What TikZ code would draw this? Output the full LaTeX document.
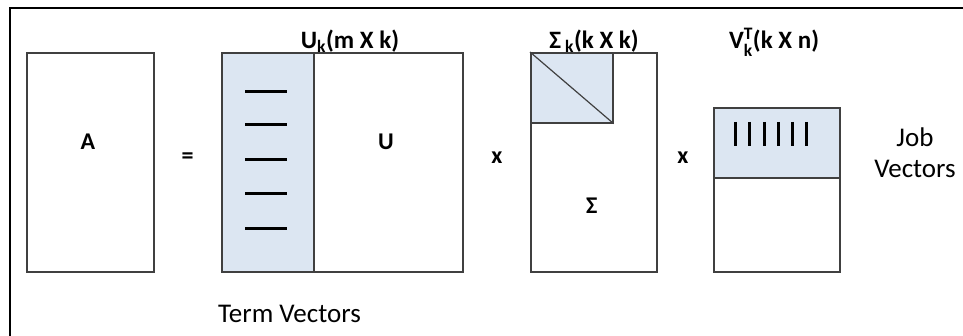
\documentclass[tikz,border=0pt]{standalone}
\usepackage{amsmath}
\usepackage{fontspec}
\setmainfont{Carlito}
\usetikzlibrary{positioning}
\definecolor{svdShade}{RGB}{220,230,242}
\definecolor{svdEdge}{RGB}{64,64,64}

\begin{document}
\begin{tikzpicture}[x=1pt, y=-1pt,
  mat/.style={draw=svdEdge, line width=1.6pt, inner sep=0pt, anchor=north west},
  part/.style={mat, fill=svdShade},
  bar/.style={line width=3pt},
  sym/.style={font=\fontsize{24}{28}\selectfont\bfseries, anchor=base, inner sep=0pt},
  title/.style={font=\fontsize{25}{30}\selectfont\bfseries, anchor=base, inner sep=0pt},
  lbl/.style={font=\fontsize{27}{31}\selectfont, inner sep=0pt}]
  \useasboundingbox (0,0) rectangle (963,336);
  \draw[line width=2.4pt] (10,336) |- (963,8);

  % A
  \node[mat, minimum width=127, minimum height=219] (a) at (26,52) {};
  \node[sym] (aLbl) at (88,150) {A};
  \node[sym] (eq) at (187.5,164) {=};

  % U_k
  \node[mat, minimum width=241, minimum height=219] (u) at (221,52) {};
  \node[part, minimum width=92, minimum height=219] (uk) at (221,52) {};
  \foreach \y in {92,125,160,194,229}
    \draw[bar] (245,\y) -- (287,\y);
  \node[sym] (uLbl) at (386,150) {U};
  \node[title] (uTitle) at (350,49) {U\textsubscript{k}(m X k)};
  \node[sym] (times1) at (497,164) {x};

  % Sigma_k
  \node[mat, minimum width=126, minimum height=219] (s) at (530,52) {};
  \node[part, minimum width=82, minimum height=70] (sk) at (530,52) {};
  \draw[svdEdge, line width=1.2pt] (sk.north west) -- (sk.south east);
  \node[sym] (sLbl) at (591.7,214) {Σ};
  \node[title] (sTitle) at (594,49) {Σ\,\textsubscript{k}(k X k)};
  \node[sym] (times2) at (683,164) {x};

  % V_k^T
  \node[mat, minimum width=126, minimum height=164] (v) at (713,107) {};
  \node[part, minimum width=126, minimum height=70] (vk) at (713,107) {};
  \foreach \i in {0,...,5}
    \draw[bar] (735.7+14.2*\i,122) -- (735.7+14.2*\i,146.5);
  \node[title] (vTitle) at (774,49) {V$_{\text{k}}^{\text{T}}$(k X n)};

  \node[lbl, align=center] (job) at (915,153) {Job\\Vectors};
  \node[lbl, anchor=base west] (term) at (218,322.7) {Term Vectors};
\end{tikzpicture}
\end{document}
